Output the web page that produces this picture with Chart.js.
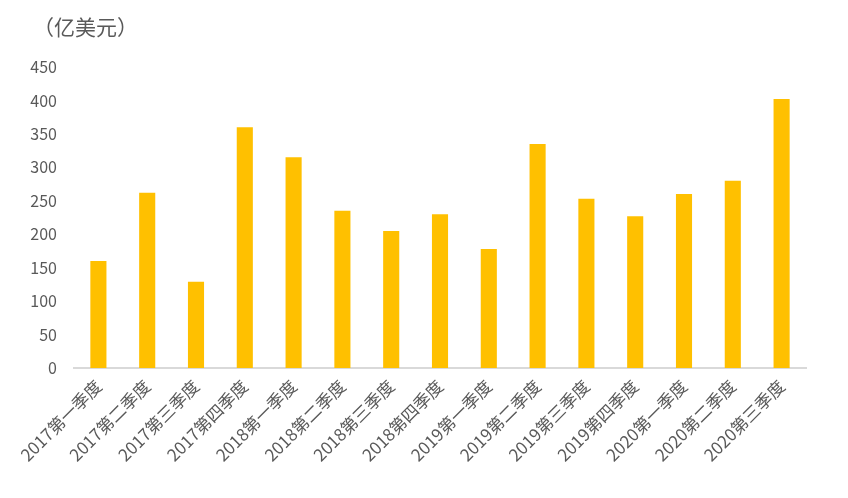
<!DOCTYPE html>
<html>
<head>
<meta charset="utf-8">
<script src="https://cdn.jsdelivr.net/npm/chart.js@4.4.1/dist/chart.umd.min.js"></script>
<style>
  html, body { margin: 0; padding: 0; background: #ffffff; }
  #wrap { position: relative; width: 848px; height: 498px; }
  #unit {
    position: absolute; left: 33px; top: 11px;
    font-family: 'Noto Sans CJK SC', sans-serif; font-size: 21px; color: #595959;
  }
</style>
</head>
<body>
<div id="wrap">
  <div id="unit">（亿美元）</div>
  <canvas id="chart" width="848" height="498"></canvas>
</div>
<script>
// quarterly values, 亿美元
const quarters = [
  '2017第一季度', '2017第二季度', '2017第三季度', '2017第四季度',
  '2018第一季度', '2018第二季度', '2018第三季度', '2018第四季度',
  '2019第一季度', '2019第二季度', '2019第三季度', '2019第四季度',
  '2020第一季度', '2020第二季度', '2020第三季度'
];
const amounts = [160, 262, 129, 360, 315, 235, 205, 230, 178, 335, 253, 227, 260, 280, 402];
const yTicks = [0, 50, 100, 150, 200, 250, 300, 350, 400, 450];

const TEXT = '#595959';
const FONT = "'Noto Sans CJK SC', 'Noto Sans', sans-serif";

const ctx = document.getElementById('chart').getContext('2d');
new Chart(ctx, {
    type: 'bar',
    data: {
        labels: quarters,
        datasets: [{
            data: amounts,
            backgroundColor: '#FFC000',
            barPercentage: 0.66,
            categoryPercentage: 0.5
        }]
    },
    options: {
        responsive: false,
        animation: false,
        layout: { padding: { left: 0, right: 42, top: 67, bottom: 0 } },
        plugins: {
            legend: { display: false },
            tooltip: { enabled: false }
        },
        scales: {
            x: {
                grid: { display: false, drawTicks: false },
                border: { color: '#D9D9D9', width: 2 },
                ticks: {
                    color: TEXT,
                    font: { family: FONT, size: 17 },
                    maxRotation: 45,
                    minRotation: 45,
                    autoSkip: false,
                    padding: 8
                },
                afterFit: (axis) => { axis.height = 130; }
            },
            y: {
                min: 0,
                max: 450,
                grid: { display: false, drawTicks: false },
                border: { display: false },
                afterBuildTicks: (axis) => { axis.ticks = yTicks.map(v => ({ value: v })); },
                ticks: {
                    color: TEXT,
                    font: { family: FONT, size: 16 },
                    padding: 17
                },
                afterFit: (axis) => { axis.width = 74; }
            }
        }
    }
});
</script>
</body>
</html>
